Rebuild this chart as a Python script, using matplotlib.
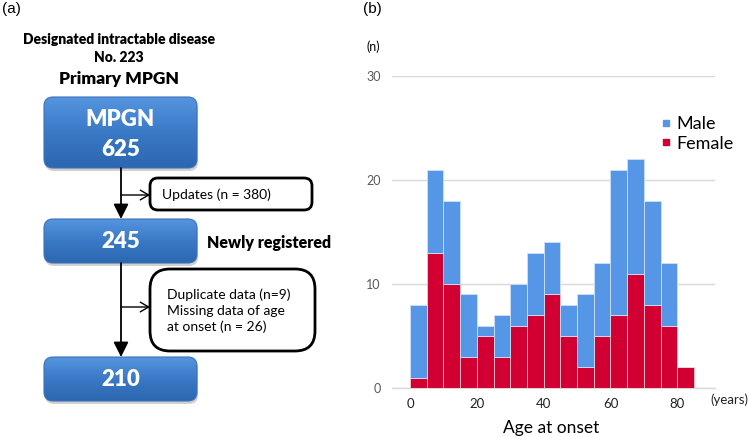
import numpy as np
import matplotlib
matplotlib.use("Agg")
import matplotlib.pyplot as plt
from matplotlib.patches import FancyBboxPatch
from matplotlib.lines import Line2D
from matplotlib.colors import LinearSegmentedColormap

# ---- data ----
age_bins = [0, 5, 10, 15, 20, 25, 30, 35, 40, 45, 50, 55, 60, 65, 70, 75, 80]
female = [1, 13, 10, 3, 5, 3, 6, 7, 9, 5, 2, 5, 7, 11, 8, 6, 2]
male = [7, 8, 8, 6, 1, 4, 4, 6, 5, 3, 7, 7, 14, 11, 10, 6, 0]
x_ticks = [0, 20, 40, 60, 80]
y_ticks = [0, 10, 20, 30]
series_labels = ["Male", "Female"]

flow_counts = ["625", "245", "210"]
excl_texts = ["Updates (n = 380)",
              "Duplicate data (n=9)\nMissing data of age\nat onset (n = 26)"]

W, H = 748, 437
fig = plt.figure(figsize=(W / 100, H / 100), dpi=100)
FONT = ["Lato", "DejaVu Sans"]

# ---- flowchart (pixel-coordinate overlay) ----
oa = fig.add_axes([0, 0, 1, 1])
oa.set_xlim(0, W)
oa.set_ylim(H, 0)
oa.axis("off")

grad = np.linspace(0, 1, 64)[:, None]
bcmap = LinearSegmentedColormap.from_list("b", ["#5595DF", "#3A79C6", "#2C67B0"])


def blue_box(x0, y0, x1, y1):
    sh = FancyBboxPatch((x0 + 1, y0 + 3), x1 - x0, y1 - y0,
                        boxstyle="round,pad=0,rounding_size=9",
                        fc="#9a9a9a", ec="none", alpha=0.45, zorder=1)
    oa.add_patch(sh)
    p = FancyBboxPatch((x0, y0), x1 - x0, y1 - y0,
                       boxstyle="round,pad=0,rounding_size=9",
                       fc="none", ec="#3C72B8", lw=0.8, zorder=3)
    oa.add_patch(p)
    im = oa.imshow(grad, cmap=bcmap, extent=(x0, x1, y1, y0),
                   aspect="auto", zorder=2, interpolation="bilinear")
    im.set_clip_path(p)


def white_box(x0, y0, x1, y1, r):
    p = FancyBboxPatch((x0, y0), x1 - x0, y1 - y0,
                       boxstyle=f"round,pad=0,rounding_size={r}",
                       fc="white", ec="black", lw=2.0, zorder=3)
    oa.add_patch(p)


blue_box(44, 97, 197, 168)
blue_box(44, 219, 197, 263)
blue_box(44, 357, 197, 401)
oa.set_xlim(0, W)
oa.set_ylim(H, 0)

box_kw = dict(ha="center", va="center", color="white", fontsize=16,
              fontweight="heavy", family=FONT, zorder=5)
oa.text(120.5, 120, "MPGN", **box_kw)
oa.text(120.5, 149, flow_counts[0], **box_kw)
oa.text(120.5, 242, flow_counts[1], **box_kw)
oa.text(120.5, 380, flow_counts[2], **box_kw)

oa.text(119, 39, "Designated intractable disease", ha="center", va="center",
        fontsize=10, fontweight="heavy", family=FONT)
oa.text(119, 58, "No. 223", ha="center", va="center",
        fontsize=10, fontweight="heavy", family=FONT)
oa.text(119, 79, "Primary MPGN", ha="center", va="center",
        fontsize=12.5, fontweight="heavy", family=FONT)
oa.text(207, 243, "Newly registered", ha="left", va="center",
        fontsize=11.5, fontweight="heavy", family=FONT)

oa.text(2, 9, "(a)", ha="left", va="center", fontsize=11,
        family=["Liberation Sans", "DejaVu Sans"])
oa.text(363, 9, "(b)", ha="left", va="center", fontsize=11,
        family=["Liberation Sans", "DejaVu Sans"])

# arrows
for (ya, yb) in [(168, 219), (263, 357)]:
    oa.annotate("", xy=(121, yb), xytext=(121, ya),
                arrowprops=dict(arrowstyle="-|>,head_length=0.9,head_width=0.45",
                                color="black", lw=1.3, shrinkA=0, shrinkB=0),
                zorder=4)
for yb in [195, 307]:
    oa.annotate("", xy=(150, yb), xytext=(121, yb),
                arrowprops=dict(arrowstyle="->,head_length=0.6,head_width=0.35",
                                color="black", lw=1.0, shrinkA=0, shrinkB=0),
                zorder=4)

white_box(150, 178, 312, 210, 8)
white_box(150, 269, 315, 351, 20)
oa.text(162, 195, excl_texts[0], ha="left", va="center", fontsize=10,
        family=FONT, zorder=5)
oa.text(167, 311, excl_texts[1], ha="left", va="center", fontsize=10,
        family=FONT, linespacing=1.35, zorder=5)

# ---- histogram ----
ax = fig.add_axes([392 / W, 1 - 388 / H, (715 - 392) / W, (388 - 76) / H])
centers = np.array(age_bins) + 2.5
c_blue = "#5596E6"
c_red = "#D20032"
ax.bar(centers, female, width=5, color=c_red, edgecolor="#F2C6D0",
       linewidth=0.6, zorder=3, label=series_labels[1])
ax.bar(centers, male, width=5, bottom=female, color=c_blue,
       edgecolor="#CFE0F7", linewidth=0.6, zorder=3, label=series_labels[0])
ax.set_xlim(-5.4, 91.3)
ax.set_ylim(0, 30)
ax.set_yticks(y_ticks)
ax.set_xticks(x_ticks)
ax.grid(axis="y", color="#D9D9D9", lw=1.0, zorder=0)
for s in ["top", "right", "left"]:
    ax.spines[s].set_visible(False)
ax.spines["bottom"].set_color("#D9D9D9")
ax.spines["bottom"].set_linewidth(1.0)
ax.tick_params(axis="both", length=0)
ax.tick_params(axis="y", pad=8, labelcolor="#595959", labelsize=9)
ax.tick_params(axis="x", pad=7, labelcolor="#222222", labelsize=9.5)
for lb in ax.get_xticklabels() + ax.get_yticklabels():
    lb.set_family(FONT)

oa2 = fig.add_axes([0, 0, 1, 1], facecolor="none")
oa2.set_xlim(0, W)
oa2.set_ylim(H, 0)
oa2.axis("off")
oa2.text(367, 47, "(n)", ha="left", va="center", fontsize=9, family=FONT)
oa2.text(710, 400, "(years)", ha="left", va="center", fontsize=9.5,
         family=FONT, color="#222222")
oa2.text(551, 428, "Age at onset", ha="center", va="center", fontsize=12.5,
         family=FONT)

handles = [Line2D([], [], marker="s", ls="none", color=c_blue, markersize=5),
           Line2D([], [], marker="s", ls="none", color=c_red, markersize=5)]
ax.legend(handles, series_labels, loc="upper left",
          bbox_to_anchor=(661 / W, 1 - 116 / H), bbox_transform=fig.transFigure,
          frameon=False, prop={"family": FONT, "size": 13},
          handlelength=0.6, handletextpad=0.25, labelspacing=0.2,
          borderaxespad=0, borderpad=0)

fig.savefig("out.png", dpi=100)
